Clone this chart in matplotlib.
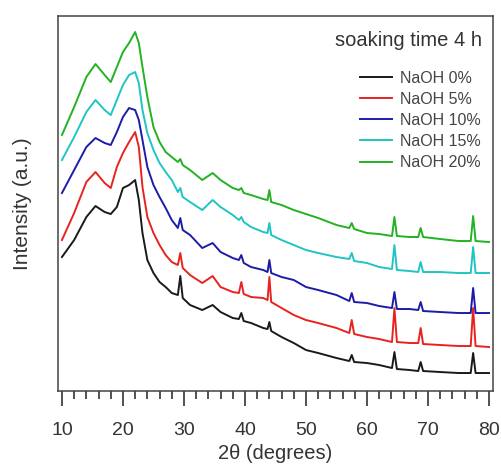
import matplotlib
matplotlib.use("Agg")
import matplotlib.pyplot as plt
from matplotlib.ticker import MultipleLocator

plt.rcParams['font.family'] = ['Liberation Sans', 'DejaVu Sans']

# 2-theta positions (degrees)
two_theta = [10, 12, 14, 15.5, 17, 18, 19, 20, 21, 22, 22.6, 23.2, 24, 25, 26, 27, 28,
             29.0, 29.4, 29.8, 31, 33, 34.7, 36, 38, 39.0, 39.4, 39.8, 41, 43, 43.7,
             44.0, 44.3, 46, 48, 50, 52, 55, 57.1, 57.5, 57.9, 60, 62, 64.1, 64.5,
             64.9, 67, 68.4, 68.8, 69.2, 72, 75, 77.0, 77.4, 77.8, 80]

# intensities (a.u.), stacked as in the figure
naoh_0 = [134, 151, 174, 185, 179, 177, 184, 203, 206, 211, 191, 158, 131, 118, 109, 104, 98,
          96, 115, 93, 86, 81, 86, 79, 73, 72, 78, 70, 68, 63, 62,
          69, 60, 54, 48, 41, 38, 33, 30, 36, 29, 28, 26, 23, 39,
          22, 21, 20, 29, 20, 19, 18, 18, 38, 18, 18]
naoh_5 = [151, 178, 209, 219, 208, 203, 224, 238, 249, 259, 244, 204, 174, 158, 146, 136, 129,
          126, 138, 123, 116, 108, 115, 104, 99, 98, 109, 97, 94, 93, 91,
          114, 89, 83, 76, 71, 68, 63, 58, 71, 57, 54, 52, 49, 83,
          49, 48, 48, 63, 47, 46, 45, 45, 83, 45, 44]
naoh_10 = [198, 221, 244, 253, 248, 246, 259, 274, 283, 281, 271, 251, 224, 206, 194, 183, 171,
           163, 173, 161, 156, 143, 148, 139, 133, 131, 136, 128, 124, 121, 119,
           131, 118, 114, 111, 104, 101, 96, 90, 98, 89, 88, 85, 83, 99,
           82, 82, 81, 89, 80, 79, 78, 78, 103, 78, 78]
naoh_15 = [231, 254, 279, 291, 281, 276, 291, 306, 316, 319, 308, 281, 258, 241, 228, 219, 211,
           199, 203, 194, 189, 181, 191, 184, 176, 171, 174, 169, 164, 159, 158,
           168, 156, 151, 146, 141, 138, 134, 132, 138, 130, 128, 124, 122, 146,
           121, 120, 119, 129, 119, 119, 118, 118, 144, 118, 118]
naoh_20 = [256, 284, 314, 327, 316, 309, 324, 339, 348, 359, 348, 324, 294, 264, 249, 239, 234,
           229, 232, 226, 221, 211, 218, 211, 203, 201, 203, 198, 196, 192, 191,
           201, 189, 186, 181, 177, 173, 166, 163, 168, 162, 158, 157, 155, 174,
           155, 154, 154, 163, 154, 152, 150, 150, 175, 150, 149]

labels = ['NaOH 0%', 'NaOH 5%', 'NaOH 10%', 'NaOH 15%', 'NaOH 20%']
colors = ['#1a1a1a', '#e8231f', '#1c1ca8', '#20c4c4', '#22b222']

fig = plt.figure(figsize=(5.02, 4.67), dpi=100)
ax = fig.add_axes([0.1155, 0.1627, 0.8665, 0.803])

for series, lab, col in zip([naoh_0, naoh_5, naoh_10, naoh_15, naoh_20], labels, colors):
    ax.plot(two_theta, series, color=col, lw=1.4, label=lab)

ax.set_xlim(9.35, 80.65)
ax.set_ylim(0, 375)
ax.set_yticks([])
ax.xaxis.set_major_locator(MultipleLocator(10))
ax.xaxis.set_minor_locator(MultipleLocator(2))
ax.tick_params(axis='x', which='major', direction='out', length=11, width=1.2,
               labelsize=14, colors='#333333', pad=11)
ax.tick_params(axis='x', which='minor', direction='out', length=6, width=1.2, colors='#333333')
for s in ax.spines.values():
    s.set_color('#444444')
    s.set_linewidth(1.1)

ax.set_xlabel('2\u03b8 (degrees)', fontsize=14.5, color='#333333', labelpad=4)
ax.set_ylabel('Intensity (a.u.)', fontsize=15, color='#333333', labelpad=19)

ax.text(0.975, 0.935, 'soaking time 4 h', transform=ax.transAxes, ha='right', va='center',
        fontsize=14.5, color='#333333')
leg = ax.legend(loc='upper right', bbox_to_anchor=(0.99, 0.875), frameon=False, fontsize=11.5,
                handlelength=2.0, handletextpad=0.5, labelspacing=0.38, borderpad=0)
for t in leg.get_texts():
    t.set_color('#444444')

fig.savefig('out.png', dpi=100)
